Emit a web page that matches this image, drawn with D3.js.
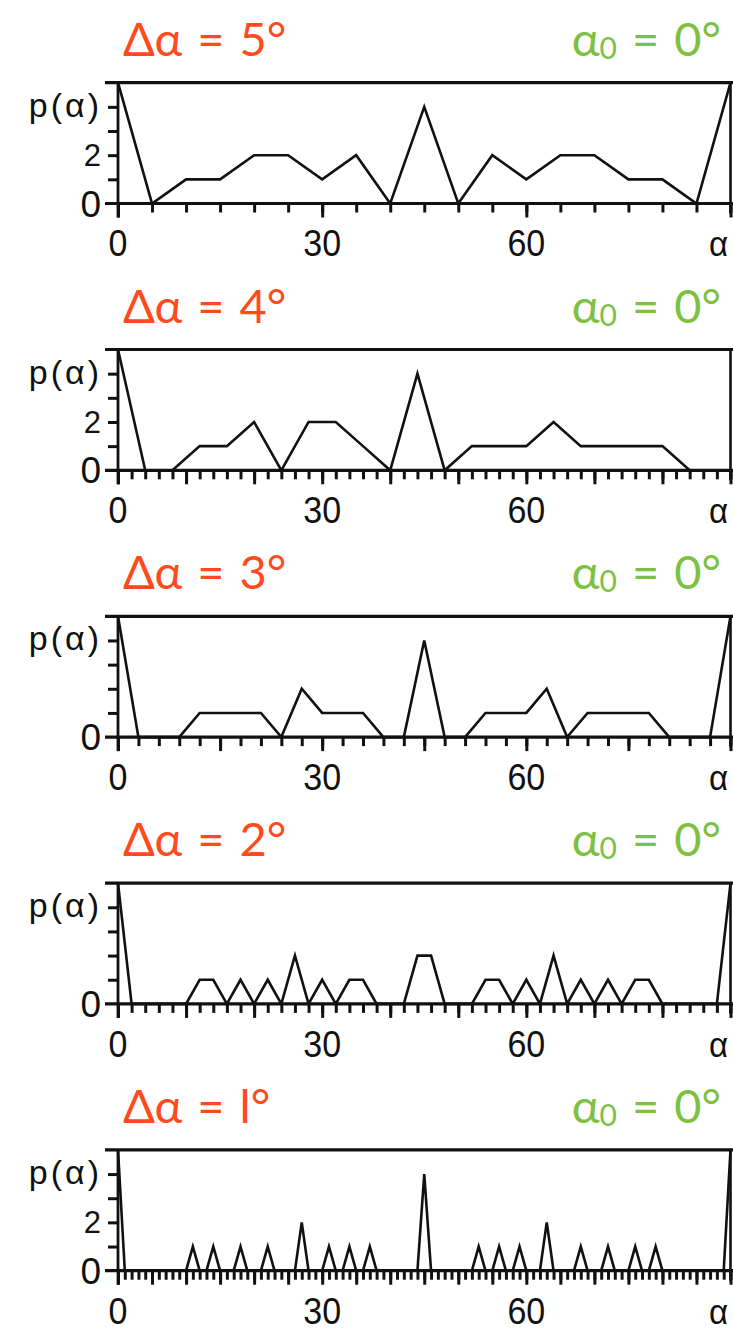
<!DOCTYPE html>
<html>
<head>
<meta charset="utf-8">
<script src="https://cdn.jsdelivr.net/npm/d3@7"></script>
<style>
  html, body { margin: 0; padding: 0; background: #fff; }
  svg { display: block; }
  .title { font-family: Lato, "Open Sans", sans-serif; font-size: 47px; word-spacing: 3px; }
  .lbl { font-family: "Liberation Sans", Arial, sans-serif; fill: #111; }
</style>
</head>
<body>
<svg id="chart" width="733" height="1333"></svg>
<script>
// Bin widths (degrees) of the five histograms, top to bottom
const binWidths = [5, 4, 3, 2, 1];
const offsets = [0, 0, 0, 0, 0];

// Counts per bin, starting at alpha = 0
const counts5 = [5, 0, 1, 1, 2, 2, 1, 2, 0, 4, 0, 2, 1, 2, 2, 1, 1, 0, 5];
const counts4 = [5, 0, 0, 1, 1, 2, 0, 2, 2, 1, 0, 4, 0, 1, 1, 1, 2, 1, 1, 1, 1, 0, 0];
const counts3 = [5, 0, 0, 0, 1, 1, 1, 1, 0, 2, 1, 1, 1, 0, 0, 4, 0, 0, 1, 1, 1, 2, 0, 1, 1, 1, 1, 0, 0, 0, 5];
const counts2 = [5, 0, 0, 0, 0, 0, 1, 1, 0, 1, 0, 1, 0, 2, 0, 1, 0, 1, 1, 0, 0, 0, 2, 2, 0, 0, 0,
                 1, 1, 0, 1, 0, 2, 0, 1, 0, 1, 0, 1, 1, 0, 0, 0, 0, 0, 5];
const counts1 = (() => {
  // one-degree bins: mostly empty, listed sparsely as [alpha, count]
  const hits = [[0, 5], [11, 1], [14, 1], [18, 1], [22, 1], [27, 2], [31, 1], [34, 1], [37, 1],
                [45, 4], [53, 1], [56, 1], [59, 1], [63, 2], [68, 1], [72, 1], [76, 1], [79, 1], [90, 5]];
  const arr = new Array(91).fill(0);
  hits.forEach(([a, c]) => { arr[a] = c; });
  return arr;
})();
const allCounts = [counts5, counts4, counts3, counts2, counts1];

// Axis ticks
const xTickStep = [5, 2, 3, 2, 1];
const xMajorStep = [30, 10, 15, 10, 5];
const xLabelValues = [0, 30, 60, 90];
const xLabelText = ["0", "30", "60", "α"];
const yTickValues = [1, 2, 3, 4];
const yLabelValues = [[0, 2], [0, 2], [0], [0], [0, 2]];

const svg = d3.select("#chart");
const red = "#ff4a1e";
const green = "#7cc142";
const ink = "#111";

const panelTop0 = 82.7, panelStep = 266.8, panelH = 120.8;
const x = d3.scaleLinear().domain([0, 90]).range([118, 730.5]);

allCounts.forEach((counts, i) => {
  const top = panelTop0 + i * panelStep;
  const zero = top + panelH;
  const y = d3.scaleLinear().domain([0, 5]).range([zero, top]);
  const g = svg.append("g");
  const dA = binWidths[i];

  // titles
  g.append("text").attr("class", "title")
    .attr("x", 123).attr("y", top - 27)
    .attr("fill", red)
    .text(`Δα = ${dA === 1 ? "l" : dA}°`);
  const t2 = g.append("text").attr("class", "title")
    .attr("x", 721).attr("y", top - 27)
    .attr("fill", green).attr("text-anchor", "end");
  t2.append("tspan").text("α");
  t2.append("tspan").attr("font-size", "30px").attr("dy", 3).text(String(offsets[i]));
  t2.append("tspan").attr("dy", -3).text(" = " + offsets[i] + "°");

  // frame: top rule, right edge
  g.append("line").attr("x1", 105).attr("x2", 733).attr("y1", top).attr("y2", top)
    .attr("stroke", ink).attr("stroke-width", 3.2);
  g.append("line").attr("x1", x(90)).attr("x2", x(90)).attr("y1", top).attr("y2", zero + 10)
    .attr("stroke", ink).attr("stroke-width", 2.6);

  // x axis: minor and major ticks
  const minor = d3.range(0, 90 + 0.001, xTickStep[i]);
  const major = minor.filter(v => v % xMajorStep[i] === 0);
  const xAxisMinor = d3.axisBottom(x).tickValues(minor).tickSize(9).tickFormat("").tickSizeOuter(0);
  const xAxisMajor = d3.axisBottom(x).tickValues(major).tickSize(14).tickFormat("").tickSizeOuter(0);
  const gx1 = g.append("g").attr("transform", `translate(0,${zero})`).call(xAxisMinor);
  const gx2 = g.append("g").attr("transform", `translate(0,${zero})`).call(xAxisMajor);
  [gx1, gx2].forEach(ax => {
    ax.select(".domain").remove();
    ax.selectAll(".tick line").attr("stroke", ink).attr("stroke-width", 3);
  });
  g.append("line").attr("x1", 105).attr("x2", 733).attr("y1", zero).attr("y2", zero)
    .attr("stroke", ink).attr("stroke-width", 3.2);

  // y axis
  const yAxis = d3.axisLeft(y).tickValues(yTickValues).tickSize(10).tickFormat("").tickSizeOuter(0);
  const gy = g.append("g").attr("transform", `translate(${x(0)},0)`).call(yAxis);
  gy.select(".domain").remove();
  gy.selectAll(".tick line").attr("stroke", ink).attr("stroke-width", 3);
  g.append("line").attr("x1", x(0)).attr("x2", x(0)).attr("y1", top).attr("y2", zero + 14)
    .attr("stroke", ink).attr("stroke-width", 2.8);

  // axis labels
  xLabelValues.forEach((v, k) => {
    const lx = x(v) + (k === 3 ? -12 : 0);
    g.append("text").attr("class", "lbl")
      .attr("x", lx).attr("y", zero + 53)
      .attr("text-anchor", "middle").attr("font-size", k === 3 ? "36px" : "37px")
      .attr("transform", `translate(${lx},0) scale(0.92,1) translate(${-lx},0)`)
      .text(xLabelText[k]);
  });
  yLabelValues[i].forEach(v => {
    g.append("text").attr("class", "lbl")
      .attr("x", 101).attr("y", y(v) + (v === 0 ? 13 : 11))
      .attr("text-anchor", "end").attr("font-size", v === 0 ? "37px" : "31px")
      .text(String(v));
  });
  g.append("text").attr("class", "lbl")
    .attr("x", 102).attr("y", y(4) + 10)
    .attr("text-anchor", "end").attr("font-size", "34px").attr("letter-spacing", "3px")
    .text("p(α)");

  // histogram polyline
  const line = d3.line().x((d, k) => x(k * dA)).y(d => y(d));
  g.append("path").datum(counts).attr("d", line)
    .attr("fill", "none").attr("stroke", ink).attr("stroke-width", 2.6)
    .attr("stroke-linejoin", "miter");
});
</script>
</body>
</html>
